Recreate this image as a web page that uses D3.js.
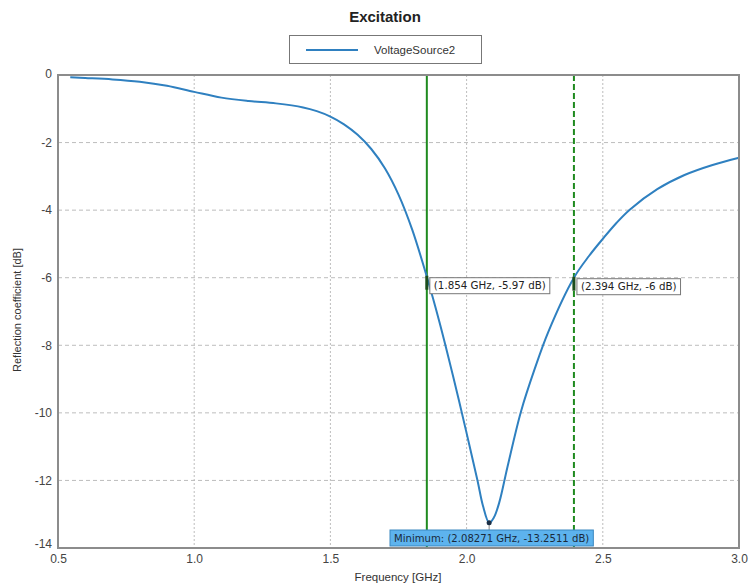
<!DOCTYPE html>
<html>
<head>
<meta charset="utf-8">
<script src="https://cdn.jsdelivr.net/npm/d3@7"></script>
<style>
  html, body { margin: 0; padding: 0; background: #fff; }
  svg { display: block; }
</style>
</head>
<body>
<svg id="chart" width="749" height="588"></svg>
<script>
// Reflection coefficient of VoltageSource2 versus frequency
const freqGHz = [0.545, 0.6, 0.7, 0.8, 0.9, 1.0, 1.1, 1.2, 1.3, 1.4, 1.45, 1.5, 1.55, 1.6, 1.65, 1.7, 1.75, 1.8, 1.854, 1.9, 1.95, 2.0, 2.04, 2.06, 2.08271, 2.1, 2.12, 2.15, 2.2, 2.25, 2.3, 2.394, 2.45, 2.5, 2.55, 2.6, 2.7, 2.8, 2.9, 3.0];
const reflectionDb = [-0.07, -0.09, -0.13, -0.2, -0.32, -0.5, -0.67, -0.77, -0.84, -0.96, -1.07, -1.23, -1.46, -1.77, -2.19, -2.76, -3.54, -4.57, -5.97, -7.3, -8.9, -10.6, -12.0, -12.75, -13.2511, -13.1, -12.65, -11.6, -9.95, -8.7, -7.6, -6.0, -5.35, -4.85, -4.38, -3.98, -3.38, -2.96, -2.67, -2.45];

const xTicks = [0.5, 1.0, 1.5, 2.0, 2.5, 3.0];
const yTicks = [0, -2, -4, -6, -8, -10, -12, -14];
const xGrid = [1.0, 1.5, 2.0, 2.5];
const yGrid = [-2, -4, -6, -8, -10, -12];

// Markers: two -6 dB crossings and the minimum
const markerFreq = [1.854, 2.394];
const markerDb = [-5.97, -6];
const markerLabels = ["(1.854 GHz, -5.97 dB)", "(2.394 GHz, -6 dB)"];
const minFreq = 2.08271;
const minDb = -13.2511;
const minLabel = "Minimum: (2.08271 GHz, -13.2511 dB)";

const seriesName = "VoltageSource2";
const titleText = "Excitation";
const xTitle = "Frequency [GHz]";
const yTitle = "Reflection coefficient [dB]";

const svg = d3.select("#chart");
const m = { left: 58, right: 739, top: 75, bottom: 548 };

const x = d3.scaleLinear().domain([0.5, 3.0]).range([m.left, m.right]);
const y = d3.scaleLinear().domain([-14, 0]).range([m.bottom, m.top]);

const gridColor = "#bdbdbd";
const curveColor = "#2f80c0";
const markerColor = "#1f8a1f";
const labelFont = "DejaVu Sans, Verdana, sans-serif";

// Grid
svg.append("g").selectAll("line").data(yGrid).join("line")
  .attr("x1", m.left).attr("x2", m.right)
  .attr("y1", d => y(d)).attr("y2", d => y(d))
  .attr("stroke", gridColor).attr("stroke-width", 1)
  .attr("stroke-dasharray", "4,3");
svg.append("g").selectAll("line").data(xGrid).join("line")
  .attr("x1", d => x(d)).attr("x2", d => x(d))
  .attr("y1", m.top).attr("y2", m.bottom)
  .attr("stroke", gridColor).attr("stroke-width", 1)
  .attr("stroke-dasharray", "2,2");

// Marker lines
svg.append("line")
  .attr("x1", x(markerFreq[0])).attr("x2", x(markerFreq[0]))
  .attr("y1", m.top).attr("y2", m.bottom)
  .attr("stroke", markerColor).attr("stroke-width", 2);
svg.append("line")
  .attr("x1", x(markerFreq[1])).attr("x2", x(markerFreq[1]))
  .attr("y1", m.top).attr("y2", m.bottom)
  .attr("stroke", markerColor).attr("stroke-width", 2)
  .attr("stroke-dasharray", "6,3");

// Curve
const pts = freqGHz.map((f, i) => [f, reflectionDb[i]]);
const line = d3.line().x(d => x(d[0])).y(d => y(d[1])).curve(d3.curveCatmullRom.alpha(0.5));
svg.append("path").datum(pts)
  .attr("d", line)
  .attr("fill", "none")
  .attr("stroke", curveColor)
  .attr("stroke-width", 2);

// Plot frame
svg.append("rect")
  .attr("x", m.left).attr("y", m.top)
  .attr("width", m.right - m.left).attr("height", m.bottom - m.top)
  .attr("fill", "none").attr("stroke", "#8c8c8c").attr("stroke-width", 2);

// Axis tick labels (plain hyphen minus signs)
const xAxis = d3.axisBottom(x).tickValues(xTicks).tickFormat(d => d.toFixed(1)).tickSize(0).tickPadding(6);
const gx = svg.append("g").attr("transform", `translate(0,${m.bottom})`).call(xAxis);
gx.select(".domain").remove();
gx.selectAll("text").attr("font-family", "Liberation Sans, Arial, sans-serif")
  .attr("font-size", 12).attr("fill", "#444");

const yAxis = d3.axisLeft(y).tickValues(yTicks).tickFormat(d => String(d)).tickSize(0).tickPadding(6);
const gy = svg.append("g").attr("transform", `translate(${m.left},0)`).call(yAxis);
gy.select(".domain").remove();
gy.selectAll("text").attr("font-family", "Liberation Sans, Arial, sans-serif")
  .attr("font-size", 12).attr("fill", "#444")
  .attr("dy", d => d === -14 ? "-0.05em" : (d === 0 ? "0.2em" : "0.32em"));

// Marker value labels
markerFreq.forEach((f, i) => {
  const px = x(f), py = y(markerDb[i]);
  const g = svg.append("g");
  const t = g.append("text")
    .attr("x", px + 7).attr("y", py + 12.5)
    .attr("font-family", labelFont).attr("font-size", 10.3)
    .attr("fill", "#222").text(markerLabels[i]);
  const bb = t.node().getBBox();
  g.insert("rect", "text")
    .attr("x", px + 3).attr("y", py + 1)
    .attr("width", bb.width + 8).attr("height", 16)
    .attr("fill", "#fff").attr("stroke", "#777").attr("stroke-width", 1);
  svg.append("rect")
    .attr("x", px - 1.5).attr("y", py - 1).attr("width", 3).attr("height", 14)
    .attr("fill", "#1d4d1d");
});

// Minimum marker
const mx = x(minFreq), my = y(minDb);
svg.append("line")
  .attr("x1", mx).attr("x2", mx).attr("y1", my).attr("y2", 531)
  .attr("stroke", "#888").attr("stroke-width", 1);
svg.append("circle").attr("cx", mx).attr("cy", my).attr("r", 2.5).attr("fill", "#1a2e44");
const minG = svg.append("g");
const minT = minG.append("text")
  .attr("x", 394).attr("y", 542)
  .attr("font-family", labelFont).attr("font-size", 10.1)
  .attr("fill", "#1a2a3a").text(minLabel);
const mbb = minT.node().getBBox();
minG.insert("rect", "text")
  .attr("x", 390).attr("y", 530)
  .attr("width", mbb.width + 8).attr("height", 16)
  .attr("fill", "#5db3ee").attr("stroke", "#3a87c0").attr("stroke-width", 1);

// Title
svg.append("text")
  .attr("x", 385).attr("y", 22)
  .attr("text-anchor", "middle")
  .attr("font-family", "Liberation Sans, Arial, sans-serif")
  .attr("font-size", 15).attr("font-weight", "bold").attr("fill", "#222")
  .text(titleText);

// Legend
svg.append("rect")
  .attr("x", 289.5).attr("y", 35.5).attr("width", 192).attr("height", 28)
  .attr("fill", "#fff").attr("stroke", "#777").attr("stroke-width", 1);
svg.append("line")
  .attr("x1", 306).attr("x2", 358).attr("y1", 50).attr("y2", 50)
  .attr("stroke", curveColor).attr("stroke-width", 2);
svg.append("text")
  .attr("x", 374).attr("y", 54)
  .attr("font-family", "Liberation Sans, Arial, sans-serif")
  .attr("font-size", 11.5).attr("fill", "#333")
  .text(seriesName);

// Axis titles
svg.append("text")
  .attr("x", 398).attr("y", 581)
  .attr("text-anchor", "middle")
  .attr("font-family", "Liberation Sans, Arial, sans-serif")
  .attr("font-size", 11.5).attr("fill", "#333")
  .text(xTitle);
svg.append("text")
  .attr("transform", "translate(21,310) rotate(-90)")
  .attr("text-anchor", "middle")
  .attr("font-family", "Liberation Sans Narrow, Liberation Sans, Arial, sans-serif")
  .attr("font-size", 11).attr("fill", "#333")
  .text(yTitle);
</script>
</body>
</html>
